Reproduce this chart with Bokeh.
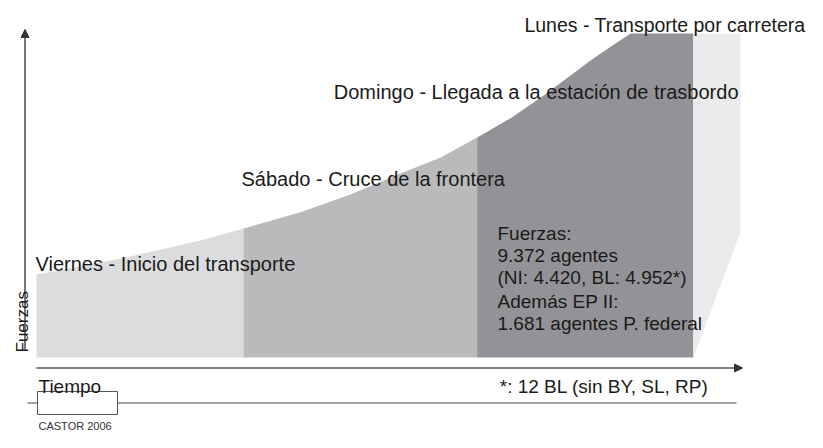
from bokeh.plotting import figure
from bokeh.models import Range1d, Label, Arrow, NormalHead
from bokeh.embed import file_html
from bokeh.resources import INLINE

# ---------------- data ----------------
# time (arbitrary units 0..100) and force (arbitrary units 0..100) along the growth curve
curve_t = [0.0, 11.9, 23.3, 29.4, 37.5, 44.6, 51.7, 57.4, 62.6, 67.3, 71.6, 75.1, 78.7, 81.8, 84.4, 93.3]
curve_f = [25.6, 30.5, 36.1, 39.8, 44.8, 50.3, 56.8, 61.7, 67.9, 73.8, 80.2, 85.8, 91.7, 96.3, 100.0, 100.0]

phase_start = [0.0, 29.4, 62.6]
phase_end = [29.4, 62.6, 93.3]
phase_colors = ["#dcdcde", "#bababd", "#939397"]

# last phase (Lunes), tapering shape
lunes_t = [93.3, 100.0, 100.0, 93.3]
lunes_f = [100.0, 100.0, 38.6, 0.0]

phase_labels = [
    "Viernes - Inicio del transporte",
    "Sábado - Cruce de la frontera",
    "Domingo - Llegada a la estación de trasbordo",
    "Lunes - Transporte por carretera",
]
info_lines = [
    "Fuerzas:",
    "9.372 agentes",
    "(NI: 4.420, BL: 4.952*)",
    "Además EP II:",
    "1.681 agentes P. federal",
]
footnote = "*: 12 BL (sin BY, SL, RP)"
y_label = "Fuerzas"
x_label = "Tiempo"
source_label = "CASTOR 2006"

# ---------------- layout ----------------
W, H = 807, 432
X0, PXT = 36.0, 7.04      # canvas x of t=0, px per time unit
Y0, PXF = 357.0, 3.24     # canvas y of f=0, px per force unit


def tx(X):
    return (X - X0) / PXT


def fy(Y):
    return (Y0 - Y) / PXF


p = figure(width=W, height=H, output_backend="svg", toolbar_location=None,
           x_range=Range1d(tx(0), tx(W)), y_range=Range1d(fy(H), fy(0)),
           x_axis_location=None, y_axis_location=None, min_border=0)
p.grid.visible = False
p.outline_line_color = None
p.background_fill_color = "white"
p.border_fill_color = "white"

# phase areas
for s, e, c in zip(phase_start, phase_end, phase_colors):
    ts = [t for t in curve_t if s <= t <= e]
    fs = [f for t, f in zip(curve_t, curve_f) if s <= t <= e]
    p.varea(x=ts, y1=[0] * len(ts), y2=fs, fill_color=c, fill_alpha=1.0)

p.patch(x=lunes_t, y=lunes_f, fill_color="#ebebed", line_color=None)

# axes as arrows
axis_col = "#555555"
p.add_layout(Arrow(end=NormalHead(size=8, fill_color="#333333", line_color="#333333"),
                   x_start=tx(24.5), y_start=fy(349), x_end=tx(24.5), y_end=fy(29),
                   line_color=axis_col, line_width=1.6))
p.add_layout(Arrow(end=NormalHead(size=8, fill_color="#333333", line_color="#333333"),
                   x_start=tx(36), y_start=fy(367.5), x_end=tx(742), y_end=fy(367.5),
                   line_color=axis_col, line_width=1.6))

# bottom timeline with box
p.line(x=[tx(27), tx(736)], y=[fy(402.5), fy(402.5)], line_color="#444444", line_width=1.2)
p.quad(left=tx(37), right=tx(117), bottom=fy(414), top=fy(391),
       fill_color="white", line_color="#555555", line_width=1)

FONT = "Liberation Sans"
TXT = "#1a1a1a"


def lab(text, X, Y, size, align="left", angle=0.0, color=TXT):
    p.add_layout(Label(x=tx(X), y=fy(Y), text=text, text_font=FONT,
                       text_font_size=size, text_color=color, text_align=align,
                       text_baseline="alphabetic", angle=angle))


lab(phase_labels[0], 35, 263, "20px")
lab(phase_labels[1], 241, 178, "20px")
lab(phase_labels[2], 738, 91, "20px", align="right")
lab(phase_labels[3], 805, 24, "19.5px", align="right")

for line, Y in zip(info_lines, [233, 255, 277, 301, 323]):
    lab(line, 497, Y, "19px")

lab(footnote, 708, 386, "19px", align="right")
lab(x_label, 38, 386, "19px")
lab(source_label, 38, 425, "11px", color="#333333")
lab(y_label, 22, 352, "17px", angle=1.5707963)

open("out.html", "w").write(file_html(p, INLINE))
